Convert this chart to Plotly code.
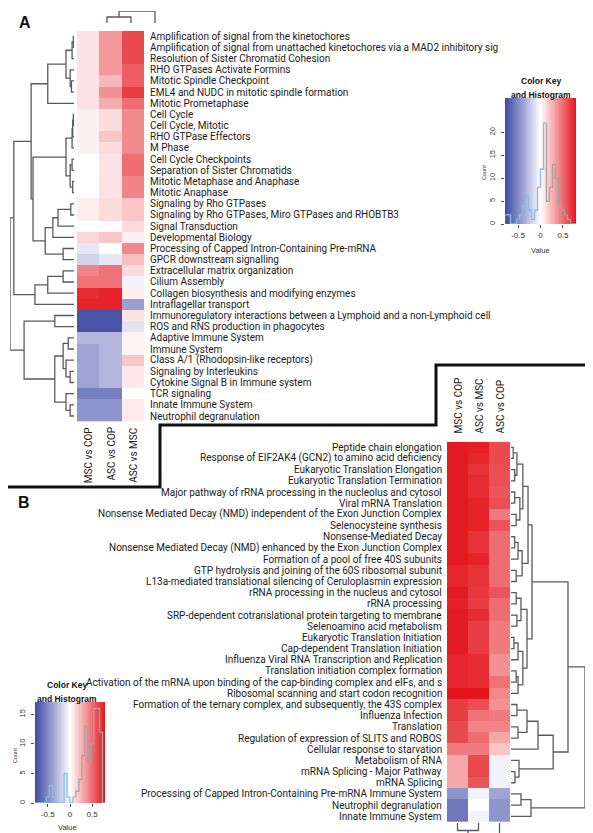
import plotly.graph_objects as go
import numpy as np

W, H = 593, 833
def px(x): return x / W
def py(y): return 1 - y / H

# ---------------- DATA ----------------
rows_A = [
    "Amplification of signal from the kinetochores",
    "Amplification of signal from unattached kinetochores via a MAD2 inhibitory sig",
    "Resolution of Sister Chromatid Cohesion",
    "RHO GTPases Activate Formins",
    "Mitotic Spindle Checkpoint",
    "EML4 and NUDC in mitotic spindle formation",
    "Mitotic Prometaphase",
    "Cell Cycle",
    "Cell Cycle, Mitotic",
    "RHO GTPase Effectors",
    "M Phase",
    "Cell Cycle Checkpoints",
    "Separation of Sister Chromatids",
    "Mitotic Metaphase and Anaphase",
    "Mitotic Anaphase",
    "Signaling by Rho GTPases",
    "Signaling by Rho GTPases, Miro GTPases and RHOBTB3",
    "Signal Transduction",
    "Developmental Biology",
    "Processing of Capped Intron-Containing Pre-mRNA",
    "GPCR downstream signalling",
    "Extracellular matrix organization",
    "Cilium Assembly",
    "Collagen biosynthesis and modifying enzymes",
    "Intraflagellar transport",
    "Immunoregulatory interactions between a Lymphoid and a non-Lymphoid cell",
    "ROS and RNS production in phagocytes",
    "Adaptive Immune System",
    "Immune System",
    "Class A/1 (Rhodopsin-like receptors)",
    "Signaling by Interleukins",
    "Cytokine Signal B in Immune system",
    "TCR signaling",
    "Innate Immune System",
    "Neutrophil degranulation",
]
cols_A = ["MSC vs COP", "ASC vs COP", "ASC vs MSC"]
msc_cop_A = [0.10, 0.10, 0.10, 0.10, 0.10, 0.10, 0.10, 0.05, 0.05, 0.05, 0.05, 0.0, 0.0, 0.0, 0.0,
             0.06, 0.06, 0.0, 0.14, -0.10, -0.18, 0.42, 0.48, 0.72, 0.75, -0.75, -0.75,
             -0.30, -0.38, -0.38, -0.38, -0.38, -0.55, -0.45, -0.45]
asc_cop_A = [0.35, 0.35, 0.35, 0.35, 0.25, 0.38, 0.28, 0.12, 0.12, 0.20, 0.12, 0.10, 0.10, 0.10, 0.10,
             0.12, 0.12, 0.0, 0.20, 0.0, -0.10, 0.48, 0.48, 0.75, 0.75, -0.75, -0.75,
             -0.30, -0.30, -0.30, -0.30, -0.30, -0.55, -0.45, -0.45]
asc_msc_A = [0.62, 0.62, 0.62, 0.55, 0.55, 0.66, 0.50, 0.40, 0.40, 0.40, 0.40, 0.50, 0.50, 0.42, 0.42,
             0.20, 0.20, 0.12, 0.05, 0.40, 0.22, 0.12, -0.05, 0.05, -0.40, 0.10, -0.12,
             0.04, 0.04, 0.20, 0.08, 0.08, 0.0, 0.07, 0.07]

rows_B = [
    "Peptide chain elongation",
    "Response of EIF2AK4 (GCN2) to amino acid deficiency",
    "Eukaryotic Translation Elongation",
    "Eukaryotic Translation Termination",
    "Major pathway of rRNA processing in the nucleolus and cytosol",
    "Viral mRNA Translation",
    "Nonsense Mediated Decay (NMD) independent of the Exon Junction Complex",
    "Selenocysteine synthesis",
    "Nonsense-Mediated Decay",
    "Nonsense Mediated Decay (NMD) enhanced by the Exon Junction Complex",
    "Formation of a pool of free 40S subunits",
    "GTP hydrolysis and joining of the 60S ribosomal subunit",
    "L13a-mediated translational silencing of Ceruloplasmin expression",
    "rRNA processing in the nucleus and cytosol",
    "rRNA processing",
    "SRP-dependent cotranslational protein targeting to membrane",
    "Selenoamino acid metabolism",
    "Eukaryotic Translation Initiation",
    "Cap-dependent Translation Initiation",
    "Influenza Viral RNA Transcription and Replication",
    "Translation initiation complex formation",
    "Activation of the mRNA upon binding of the cap-binding complex and eIFs, and s",
    "Ribosomal scanning and start codon recognition",
    "Formation of the ternary complex, and subsequently, the 43S complex",
    "Influenza Infection",
    "Translation",
    "Regulation of expression of SLITS and ROBOS",
    "Cellular response to starvation",
    "Metabolism of RNA",
    "mRNA Splicing - Major Pathway",
    "mRNA Splicing",
    "Processing of Capped Intron-Containing Pre-mRNA Immune System",
    "Neutrophil degranulation",
    "Innate Immune System",
]
cols_B = ["MSC vs COP", "ASC vs MSC", "ASC vs COP"]
msc_cop_B = [0.78, 0.78, 0.78, 0.78, 0.78, 0.78, 0.78, 0.78, 0.78, 0.78, 0.78, 0.74, 0.74, 0.78, 0.76,
             0.78, 0.78, 0.78, 0.78, 0.74, 0.74, 0.74, 0.80, 0.66, 0.66, 0.62, 0.62, 0.45,
             0.30, 0.30, 0.30, -0.45, -0.58, -0.58]
asc_msc_B = [0.76, 0.74, 0.70, 0.72, 0.72, 0.75, 0.75, 0.75, 0.70, 0.70, 0.75, 0.70, 0.70, 0.68, 0.66,
             0.72, 0.66, 0.66, 0.66, 0.72, 0.72, 0.72, 0.80, 0.60, 0.48, 0.42, 0.50, 0.45,
             0.62, 0.62, 0.58, -0.05, 0.0, -0.05]
asc_cop_B = [0.62, 0.62, 0.60, 0.60, 0.58, 0.60, 0.45, 0.58, 0.50, 0.50, 0.50, 0.50, 0.50, 0.58, 0.50,
             0.50, 0.45, 0.45, 0.45, 0.38, 0.38, 0.48, 0.40, 0.38, 0.45, 0.42, 0.30, 0.20,
             -0.05, -0.05, -0.05, -0.38, -0.45, -0.45]

# dendrograms: nested [left, right, merge height]; leaves are row / column indices
row_tree_A = [
    [
        [
            [[[[0, 1, 0.01], 2, 0.03], [3, [4, 5, 0.04], 0.06], 0.125], 6, 0.41],
            [
                [[[[7, 8, 0.01], 9, 0.02], 10, 0.03], [[11, 12, 0.03], [13, 14, 0.02], 0.06], 0.125],
                [[[[15, 16, 0.05], 17, 0.25], 18, 0.33], [19, 20, 0.17], 0.45],
                0.64,
            ],
            0.67,
        ],
        [[[21, 22, 0.17], 23, 0.41], 24, 0.61],
        0.94,
    ],
    [[25, 26, 0.30],
     [[[27, 28, 0.09], [29, [30, 31, 0.06], 0.125], 0.17], [32, [33, 34, 0.06], 0.125], 0.30],
     0.78],
    1.0,
]
col_tree_A = [[0, 1, 0.5], 2, 1.0]

row_tree_B = [
    [
        [
            [[[[0, 1, 0.03], [2, 3, 0.05], 0.08], [[4, 5, 0.05], [6, 7, 0.07], 0.12], 0.16],
             [[[8, 9, 0.05], 10, 0.095], [11, 12, 0.07], 0.15], 0.23],
            [[[13, 14, 0.07], [15, 16, 0.08], 0.135],
             [[[17, 18, 0.04], 19, 0.095], [[20, 21, 0.07], 22, 0.095], 0.16], 0.216],
            0.284,
        ],
        [[[[23, 24, 0.08], [25, 26, 0.095], 0.216], 27, 0.365], [28, [29, 30, 0.054], 0.108], 0.57],
        0.77,
    ],
    [[31, 32, 0.135], 33, 0.27],
    1.0,
]
col_tree_B = [[0, 1, 0.5], 2, 1.0]

# colour-key histograms (bin edges and counts)
hist_edges = list(np.round(np.linspace(-0.8, 0.8, 25), 4))
hist_A = [2, 2, 0, 0, 1, 2, 4, 6, 3, 1, 3, 8, 12, 22, 5, 8, 13, 10, 4, 3, 2, 1, 0, 0]
hist_B = [0, 0, 0, 0, 1, 3, 1, 0, 0, 0, 5, 1, 0, 1, 2, 4, 8, 13, 7, 10, 16, 16, 12, 0]
key_ticks_x = [-0.5, 0, 0.5]

# ---------------- STYLE ----------------
ZMIN, ZMAX = -0.8, 0.8
cscale = [[0.0, "#3b49a2"], [0.25, "#9a9fd2"], [0.5, "#ffffff"], [0.75, "#f28a8d"], [1.0, "#e3141b"]]
FONT = "Roboto"
LAB = dict(family=FONT, size=10, color="#1a1a1a")
DCOL = "#5a5a5a"

fig = go.Figure()

def dendro(tree):
    pos, hgt = [], []
    def rec(node):
        if isinstance(node, int):
            return float(node), 0.0
        l, r, h = node
        pl, hl = rec(l)
        pr, hr = rec(r)
        pos.extend([pl, pl, pr, pr, None])
        hgt.extend([hl, h, h, hr, None])
        return (pl + pr) / 2, h
    rec(tree)
    return pos, hgt

zA = [list(r) for r in zip(msc_cop_A, asc_cop_A, asc_msc_A)]
zB = [list(r) for r in zip(msc_cop_B, asc_msc_B, asc_cop_B)]
nA, nB = len(rows_A), len(rows_B)

fig.add_trace(go.Heatmap(z=zA, x=[0, 1, 2], y=list(range(nA)), colorscale=cscale, zmin=ZMIN, zmax=ZMAX,
                         showscale=False, xaxis="x", yaxis="y", hoverinfo="skip"))
p, h = dendro(row_tree_A)
fig.add_trace(go.Scatter(x=h, y=p, mode="lines", line=dict(color=DCOL, width=1.3), xaxis="x2", yaxis="y2",
                         hoverinfo="skip", showlegend=False))
p, h = dendro(col_tree_A)
fig.add_trace(go.Scatter(x=p, y=h, mode="lines", line=dict(color=DCOL, width=1.3), xaxis="x3", yaxis="y3",
                         hoverinfo="skip", showlegend=False))
fig.add_trace(go.Heatmap(z=zB, x=[0, 1, 2], y=list(range(nB)), colorscale=cscale, zmin=ZMIN, zmax=ZMAX,
                         showscale=False, xaxis="x4", yaxis="y4", hoverinfo="skip"))
p, h = dendro(row_tree_B)
fig.add_trace(go.Scatter(x=h, y=p, mode="lines", line=dict(color=DCOL, width=1.3), xaxis="x5", yaxis="y5",
                         hoverinfo="skip", showlegend=False))
p, h = dendro(col_tree_B)
fig.add_trace(go.Scatter(x=p, y=h, mode="lines", line=dict(color=DCOL, width=1.3), xaxis="x6", yaxis="y6",
                         hoverinfo="skip", showlegend=False))

# colour keys
kedges = np.linspace(-0.79, 0.79, 121)
kcent = (kedges[:-1] + kedges[1:]) / 2
ymaxA, ymaxB = 27.5, 17.1
for xa, ya, ymax, counts in (("x7", "y7", ymaxA, hist_A), ("x8", "y8", ymaxB, hist_B)):
    fig.add_trace(go.Heatmap(z=[list(kcent)], x=list(kedges), y=[0, ymax], colorscale=cscale, zmin=ZMIN, zmax=ZMAX,
                             showscale=False, xaxis=xa, yaxis=ya, hoverinfo="skip"))
    split = 0.14
    for side, col in (("L", "#86bde0"), ("R", "#a3a3a3")):
        xs, ys = [], []
        for i, c in enumerate(counts):
            lo, hi = hist_edges[i], hist_edges[i + 1]
            mid = (lo + hi) / 2
            if (side == "L") == (mid < split):
                prev = counts[i - 1] if i > 0 else 0
                if xs and xs[-1] is not None and abs(xs[-1] - lo) < 1e-9:
                    xs += [lo, lo, hi]; ys += [prev, c, c]
                else:
                    if xs: xs.append(None); ys.append(None)
                    xs += [lo, lo, hi]; ys += [prev, c, c]
        fig.add_trace(go.Scatter(x=xs, y=ys, mode="lines", line=dict(color=col, width=1.3),
                                 xaxis=xa, yaxis=ya, hoverinfo="skip", showlegend=False, connectgaps=False))

# ---------------- AXES ----------------
hid = dict(showgrid=False, zeroline=False, showticklabels=False, showline=False, ticks="")
yA = [py(413.6), py(22.7)]
yB = [py(813.9), py(433.7)]
lay = dict(
    xaxis=dict(domain=[px(69), px(136)], range=[-0.5, 2.5], **hid),
    yaxis=dict(domain=yA, range=[nA - 0.5, -0.5], **hid),
    xaxis2=dict(domain=[px(2), px(66)], range=[1.0, 0.0], anchor="y2", **hid),
    yaxis2=dict(domain=yA, range=[nA - 0.5, -0.5], anchor="x2", **hid),
    xaxis3=dict(domain=[px(87), px(159)], range=[-0.5, 2.5], anchor="y3", **hid),
    yaxis3=dict(domain=[py(15), py(3)], range=[0, 1.0], anchor="x3", **hid),
    xaxis4=dict(domain=[px(439), px(502)], range=[-0.5, 2.5], anchor="y4", **hid),
    yaxis4=dict(domain=yB, range=[nB - 0.5, -0.5], anchor="x4", **hid),
    xaxis5=dict(domain=[px(503), px(577)], range=[0, 1.0], anchor="y5", **hid),
    yaxis5=dict(domain=yB, range=[nB - 0.5, -0.5], anchor="x5", **hid),
    xaxis6=dict(domain=[px(439), px(502)], range=[-0.5, 2.5], anchor="y6", **hid),
    yaxis6=dict(domain=[py(830), py(815)], range=[1.0, 0], anchor="x6", **hid),
)
tickf = dict(family="Liberation Sans", size=8, color="#333")
for xa, ya, xd, yd, ymax, yt in (("xaxis7", "yaxis7", [497, 568], [216, 90], ymaxA, [0, 5, 10, 15, 20]),
                                 ("xaxis8", "yaxis8", [27, 97], [795, 694], ymaxB, [0, 5, 10, 15])):
    lay[xa] = dict(domain=[px(xd[0]), px(xd[1])], range=[-0.79, 0.79], anchor=ya.replace("axis", ""),
                   showgrid=False, zeroline=False, showline=False, ticks="outside", ticklen=3, tickcolor="#555",
                   tickvals=key_ticks_x, ticktext=["-0.5", "0", "0.5"], tickfont=tickf)
    lay[ya] = dict(domain=[py(yd[0]), py(yd[1])], range=[0, ymax], anchor=xa.replace("axis", ""),
                   showgrid=False, zeroline=False, showline=False, ticks="outside", ticklen=3, tickcolor="#555",
                   tickvals=yt, tickangle=-90, tickfont=dict(family="Liberation Sans", size=7.5, color="#333"),
                   ticklabelstandoff=3)

ann = []
for i, t in enumerate(rows_A):
    ann.append(dict(x=2.5, y=i, xref="x", yref="y", text=t, showarrow=False, xanchor="left", yanchor="middle",
                    xshift=4, font=LAB))
for i, t in enumerate(rows_B):
    ann.append(dict(x=-0.5, y=i, xref="x4", yref="y4", text=t, showarrow=False, xanchor="right", yanchor="middle",
                    xshift=-3, font=LAB))
for j, t in enumerate(cols_A):
    ann.append(dict(x=j, y=py(417), xref="x", yref="paper", text=t, showarrow=False, textangle=-90,
                    xanchor="center", yanchor="top", font=LAB))
for j, t in enumerate(cols_B):
    ann.append(dict(x=j, y=py(428), xref="x4", yref="paper", text=t, showarrow=False, textangle=-90,
                    xanchor="center", yanchor="bottom", font=LAB))
titf = dict(family="Liberation Sans", size=8.5, color="#111")
for cx, top, vy in ((532.5, 90, 242), (59, 694, 819)):
    ann.append(dict(x=px(cx), y=py(top - 17), xref="paper", yref="paper", text="<b>Color Key</b>", showarrow=False,
                    font=titf, xanchor="center", yanchor="middle", borderpad=0))
    ann.append(dict(x=px(cx), y=py(top - 3), xref="paper", yref="paper", text="<b>and Histogram</b>", showarrow=False,
                    font=titf, xanchor="center", yanchor="middle", borderpad=0))
    ann.append(dict(x=px(cx), y=py(vy), xref="paper", yref="paper", text="Value", showarrow=False,
                    font=dict(family="Liberation Sans", size=7.5, color="#333"), xanchor="center", yanchor="middle"))
ann.append(dict(x=px(476), y=py(165), xref="paper", yref="paper", text="Count", showarrow=False, textangle=-90,
                xanchor="center", yanchor="middle", font=dict(family="Liberation Sans", size=5.5, color="#333")))
ann.append(dict(x=px(7), y=py(748), xref="paper", yref="paper", text="Count", showarrow=False, textangle=-90,
                xanchor="center", yanchor="middle", font=dict(family="Liberation Sans", size=5.5, color="#333")))
ann.append(dict(x=px(17), y=py(14), xref="paper", yref="paper", text="<b>A</b>", showarrow=False,
                xanchor="center", yanchor="middle", font=dict(family="Liberation Sans", size=16, color="#111")))
ann.append(dict(x=px(16), y=py(494), xref="paper", yref="paper", text="<b>B</b>", showarrow=False,
                xanchor="center", yanchor="middle", font=dict(family="Liberation Sans", size=16, color="#111")))

pts = [(0, 479), (152, 479), (152, 417), (428, 417), (428, 357), (593, 357)]
path = "M " + " L ".join(f"{px(a):.5f},{py(b):.5f}" for a, b in pts)
shapes = [dict(type="path", path=path, xref="paper", yref="paper", line=dict(color="#111", width=3))]

fig.update_layout(width=W, height=H, margin=dict(l=0, r=0, t=0, b=0), paper_bgcolor="white",
                  plot_bgcolor="rgba(0,0,0,0)", showlegend=False, annotations=ann, shapes=shapes, **lay)
fig.write_html("out.html")
